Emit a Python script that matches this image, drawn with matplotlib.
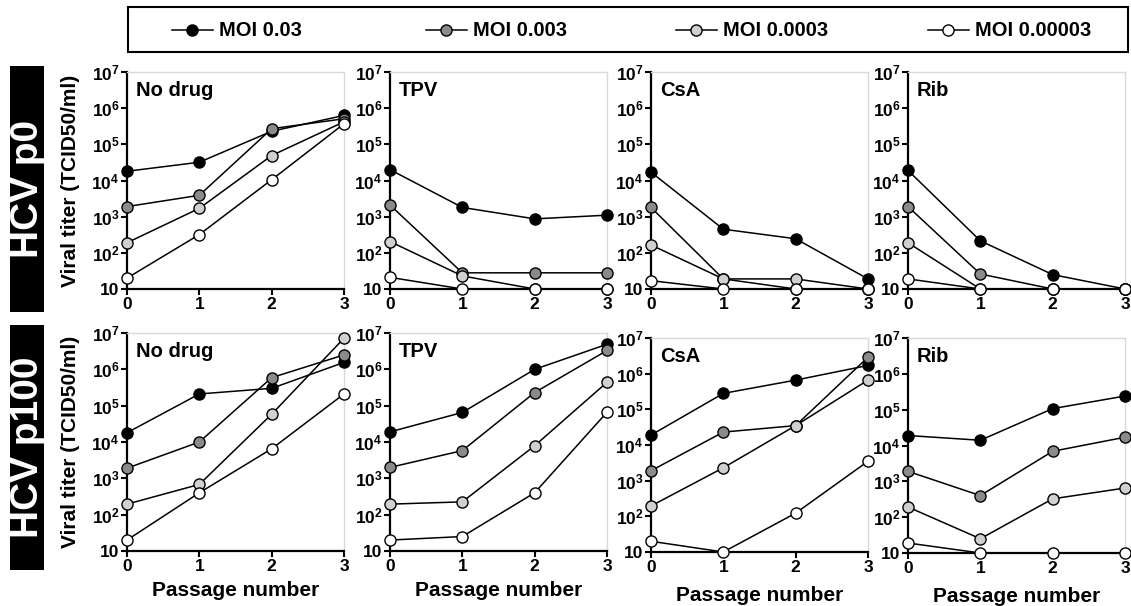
import matplotlib
matplotlib.use("Agg")
import matplotlib.pyplot as plt
from matplotlib.patches import Rectangle
from matplotlib.lines import Line2D

plt.rcParams['font.family'] = ['Liberation Sans', 'DejaVu Sans']
plt.rcParams['font.weight'] = 'bold'
plt.rcParams['mathtext.fontset'] = 'custom'
plt.rcParams['mathtext.rm'] = 'Liberation Sans:bold'
plt.rcParams['mathtext.it'] = 'Liberation Sans:bold'
plt.rcParams['mathtext.bf'] = 'Liberation Sans:bold'

# ---------------- data ----------------
passages = [0, 1, 2, 3]
conditions = ['No drug', 'TPV', 'CsA', 'Rib']
rows = ['HCV p0', 'HCV p100']
moi_labels = ['MOI 0.03', 'MOI 0.003', 'MOI 0.0003', 'MOI 0.00003']
moi_colors = ['#000000', '#8a8a8a', '#d0d0d0', '#ffffff']

# each panel: rows = MOI 0.03, 0.003, 0.0003, 0.00003 ; columns = passage 0..3
p0_no_drug = [[1.8e4, 3.2e4, 2.3e5, 6.3e5],
              [1.9e3, 3.9e3, 2.7e5, 5.1e5],
              [190, 1.7e3, 4.9e4, 4.2e5],
              [20, 320, 1.05e4, 3.7e5]]
p0_tpv = [[2.0e4, 1.8e3, 870, 1.1e3],
          [2.1e3, 28, 28, 28],
          [205, 23, 10, 10],
          [21, 10, 10, 10]]
p0_csa = [[1.7e4, 450, 245, 19],
          [1.8e3, 19, 10, 10],
          [165, 19, 19, 10],
          [17, 10, 10, 10]]
p0_rib = [[1.9e4, 215, 25, 10],
          [1.9e3, 26, 10, 10],
          [190, 10, 10, 10],
          [19, 10, 10, 10]]
p100_no_drug = [[1.8e4, 2.1e5, 3.0e5, 1.55e6],
                [1.9e3, 1.0e4, 5.9e5, 2.5e6],
                [195, 680, 5.8e4, 7.2e6],
                [20, 400, 6.5e3, 2.1e5]]
p100_tpv = [[1.9e4, 6.5e4, 1.0e6, 4.9e6],
            [2.0e3, 5.8e3, 2.3e5, 3.3e6],
            [195, 225, 7.9e3, 4.4e5],
            [20, 25, 400, 6.6e4]]
p100_csa = [[1.9e4, 2.8e5, 6.6e5, 1.7e6],
            [1.9e3, 2.3e4, 3.5e4, 2.9e6],
            [195, 2.3e3, 3.5e4, 6.6e5],
            [20, 10, 123, 3.5e3]]
p100_rib = [[1.9e4, 1.4e4, 1.07e5, 2.4e5],
            [1.9e3, 400, 6.9e3, 1.7e4],
            [192, 25, 325, 650],
            [19, 10, 10, 10]]

panel_data = [[p0_no_drug, p0_tpv, p0_csa, p0_rib],
              [p100_no_drug, p100_tpv, p100_csa, p100_rib]]

ytick_vals = [1e1, 1e2, 1e3, 1e4, 1e5, 1e6, 1e7]
ytick_labels = ['10', r'$10^{2}$', r'$10^{3}$', r'$10^{4}$', r'$10^{5}$', r'$10^{6}$', r'$10^{7}$']

# ---------------- layout ----------------
W, H = 1131, 606
fig = plt.figure(figsize=(W / 100, H / 100), dpi=100)

def fx(px):
    return px / W

def fy(py):
    return 1 - py / H

col_left = [127, 390, 651, 908]
col_width = 217
row_top = [[72, 72, 72, 72], [333, 333, 338, 338]]
row_bot = [[289, 289, 289, 289], [551, 551, 552, 553]]

for r in range(2):
    for c in range(4):
        l = col_left[c]
        t = row_top[r][c]
        b = row_bot[r][c]
        ax = fig.add_axes([fx(l), fy(b), fx(col_width), (b - t) / H])
        ax.set_yscale('log')
        ax.set_xlim(0, 3)
        ax.set_ylim(10, 1e7)
        for i in range(4):
            ax.plot(passages, panel_data[r][c][i], '-o', color='black', lw=1.1,
                    markersize=8, markerfacecolor=moi_colors[i],
                    markeredgecolor='black', markeredgewidth=1.0,
                    clip_on=False, zorder=3 + i)
        ax.set_yticks(ytick_vals)
        ax.set_yticklabels(ytick_labels)
        ax.yaxis.set_minor_locator(matplotlib.ticker.NullLocator())
        ax.set_xticks(passages)
        ax.set_xticklabels([str(p) for p in passages])
        ax.tick_params(axis='both', direction='out', length=4, width=1.5,
                       labelsize=12.5, pad=1.5)
        for lab in ax.get_xticklabels() + ax.get_yticklabels():
            lab.set_fontweight('bold')
        for s in ['left', 'bottom']:
            ax.spines[s].set_linewidth(1.6)
            ax.spines[s].set_color('black')
        for s in ['top', 'right']:
            ax.spines[s].set_linewidth(1.0)
            ax.spines[s].set_color('#d9d9d9')
        ax.text(0.04, 0.96, conditions[c], transform=ax.transAxes,
                ha='left', va='top', fontsize=14.5, fontweight='bold')
        if r == 1:
            ax.set_xlabel('Passage number', fontsize=15, fontweight='bold',
                          labelpad=5 if c < 2 else 8)

# y labels
for r in range(2):
    yc = (row_top[r][0] + row_bot[r][0]) / 2
    fig.text(fx(70), fy(yc), 'Viral titer (TCID50/ml)', rotation=90,
             ha='center', va='center', fontsize=15, fontweight='bold')

# black row labels
box_spans = [(66, 312), (325, 570)]
for r in range(2):
    t, b = box_spans[r]
    fig.add_artist(Rectangle((fx(10), fy(b)), fx(34), (b - t) / H,
                             transform=fig.transFigure, facecolor='black',
                             edgecolor='none'))
    fig.text(fx(28), fy((t + b) / 2), rows[r], rotation=90, color='white',
             ha='center', va='center', fontsize=28, fontweight='bold')

# legend box
fig.add_artist(Rectangle((fx(128), fy(52)), fx(1000), 45 / H,
                         transform=fig.transFigure, facecolor='none',
                         edgecolor='black', linewidth=1.5))
leg_line_start = [172, 426, 676, 928]
for i in range(4):
    x0 = leg_line_start[i]
    fig.add_artist(Line2D([fx(x0), fx(x0 + 41)], [fy(30), fy(30)],
                          transform=fig.transFigure, color='black', lw=1.1))
    fig.add_artist(Line2D([fx(x0 + 20)], [fy(30)], transform=fig.transFigure,
                          marker='o', markersize=8, markerfacecolor=moi_colors[i],
                          markeredgecolor='black', markeredgewidth=1.0, lw=0))
    fig.text(fx(x0 + 47), fy(30), moi_labels[i], ha='left', va='center',
             fontsize=14.5, fontweight='bold')

fig.savefig('out.png', dpi=100)
